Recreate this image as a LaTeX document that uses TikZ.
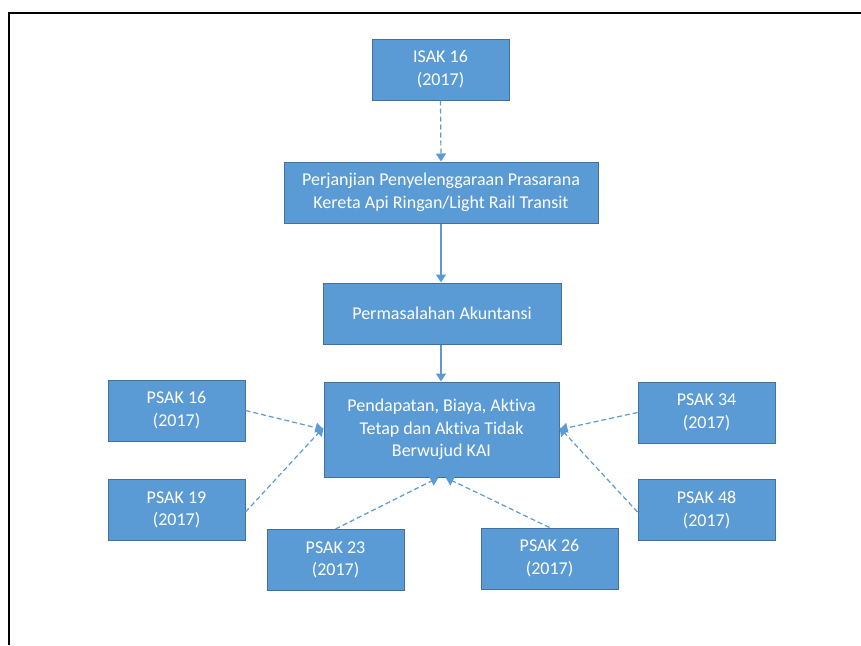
\documentclass[tikz,border=0pt]{standalone}
\usepackage{fontspec}
\setmainfont{Carlito}[Ligatures=NoCommon]
\usetikzlibrary{arrows.meta}
\definecolor{boxfill}{HTML}{5B9BD5}
\definecolor{boxline}{HTML}{41719C}
\definecolor{arrowc}{HTML}{5B9BD5}
\tikzset{
  box/.style={draw=boxline, line width=1pt, fill=boxfill, text=white, align=center,
    inner sep=0pt, minimum width=137pt, minimum height=61pt,
    font=\fontsize{18}{22.7}\selectfont},
  link/.style={draw=arrowc, line width=1.2pt, -{Triangle[width=10pt,length=8pt]}},
  dlink/.style={link, dash pattern=on 5pt off 3pt},
}
\begin{document}
\begin{tikzpicture}[x=1pt,y=-1pt]
\useasboundingbox (0,0) rectangle (861,645);
\draw[line width=2.2pt] (9,645) -- (9,13) -- (861,13);
\node[box] (isak) at (440.5,69.5) {ISAK 16\\(2017)};
\node[box, minimum width=314pt] (perj) at (441,192.5) {Perjanjian Penyelenggaraan Prasarana\\Kereta Api Ringan/Light Rail Transit};
\node[box, minimum width=238pt] (perm) at (442,313.5) {Permasalahan Akuntansi};
\node[box, minimum width=235pt, minimum height=95pt] (pend) at (441.5,429.5) {Pendapatan, Biaya, Aktiva\\Tetap dan Aktiva Tidak\\Berwujud KAI};
\node[box] (p16) at (176.5,410.5) {PSAK 16\\(2017)};
\node[box] (p19) at (176.5,510) {PSAK 19\\(2017)};
\node[box] (p23) at (335.5,560) {PSAK 23\\(2017)};
\node[box] (p26) at (549.5,558.5) {PSAK 26\\(2017)};
\node[box] (p34) at (706.5,412.5) {PSAK 34\\(2017)};
\node[box] (p48) at (706.5,510) {PSAK 48\\(2017)};
\draw[dlink] (isak.south) -- (perj.north);
\draw[link] (perj.south) -- (perm.north -| perj.south);
\draw[link] (perm.south -| perj.south) -- (pend.north -| perj.south);
\draw[dlink] (p16.east) -- (pend.west);
\draw[dlink] ([yshift=-2pt]p19.east) -- ([yshift=2pt]pend.west);
\draw[dlink] (p23.north) -- ([xshift=-3pt]pend.south);
\draw[dlink] (p26.north) -- ([xshift=4pt]pend.south);
\draw[dlink] (p34.west) -- (pend.east);
\draw[dlink] ([yshift=-2pt]p48.west) -- ([yshift=2pt]pend.east);
\end{tikzpicture}
\end{document}
